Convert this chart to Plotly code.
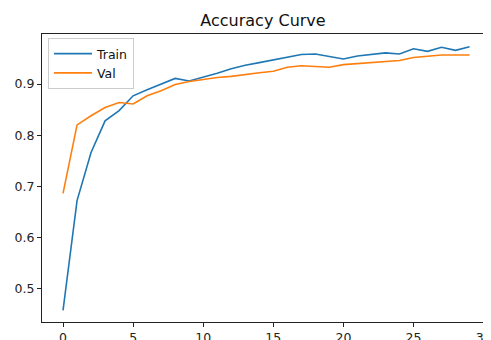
import plotly.graph_objects as go

epochs = list(range(30))
train_acc = [0.457, 0.672, 0.766, 0.828, 0.848, 0.877, 0.889, 0.900, 0.911, 0.906,
             0.913, 0.921, 0.930, 0.937, 0.942, 0.947, 0.953, 0.958, 0.959, 0.954,
             0.949, 0.955, 0.958, 0.961, 0.959, 0.969, 0.964, 0.972, 0.966, 0.973]
val_acc = [0.686, 0.820, 0.838, 0.854, 0.864, 0.861, 0.877, 0.887, 0.899, 0.905,
           0.909, 0.913, 0.915, 0.919, 0.922, 0.925, 0.933, 0.936, 0.935, 0.933,
           0.938, 0.940, 0.941, 0.944, 0.946, 0.952, 0.955, 0.957, 0.957, 0.957]
x_ticks = [0, 5, 10, 15, 20, 25, 30]

fig = go.Figure()
fig.add_trace(go.Scatter(x=epochs, y=train_acc, mode="lines", name="Train",
                         line=dict(color="#1f77b4", width=1.6)))
fig.add_trace(go.Scatter(x=epochs, y=val_acc, mode="lines", name="Val",
                         line=dict(color="#ff7f0e", width=1.6)))

axis_common = dict(showline=True, linecolor="#222", linewidth=1, mirror=True,
                   showgrid=False, zeroline=False, ticks="outside", ticklen=4,
                   tickcolor="#222", automargin=False, ticklabeloverflow="allow",
                   tickfont=dict(family="DejaVu Sans", size=12.5, color="#222"))

W, H = 483, 332  # page body has an 8px margin
fig.update_layout(
    width=W, height=H,
    margin=dict(l=34, r=7, t=26, b=18),
    paper_bgcolor="white", plot_bgcolor="white",
    title=dict(text="Accuracy Curve", x=0.5, xref="paper", y=1 - 12 / H,
               yref="container", xanchor="center", yanchor="middle",
               automargin=False,
               font=dict(family="DejaVu Sans", size=16, color="#111")),
    xaxis=dict(range=[-1.5, 30.03], tickmode="array", tickvals=x_ticks,
               ticktext=[str(t) for t in x_ticks], **axis_common),
    yaxis=dict(range=[0.4343, 0.998], tick0=0.5, dtick=0.1, tickformat=".1f", **axis_common),
    legend=dict(x=0.0136, y=0.986, xanchor="left", yanchor="top",
                bgcolor="rgba(255,255,255,0.8)", bordercolor="#ccc", borderwidth=1,
                font=dict(family="DejaVu Sans", size=12.5, color="#111"),
                itemwidth=38, tracegroupgap=0),
    showlegend=True,
)

fig.write_html("out.html")
